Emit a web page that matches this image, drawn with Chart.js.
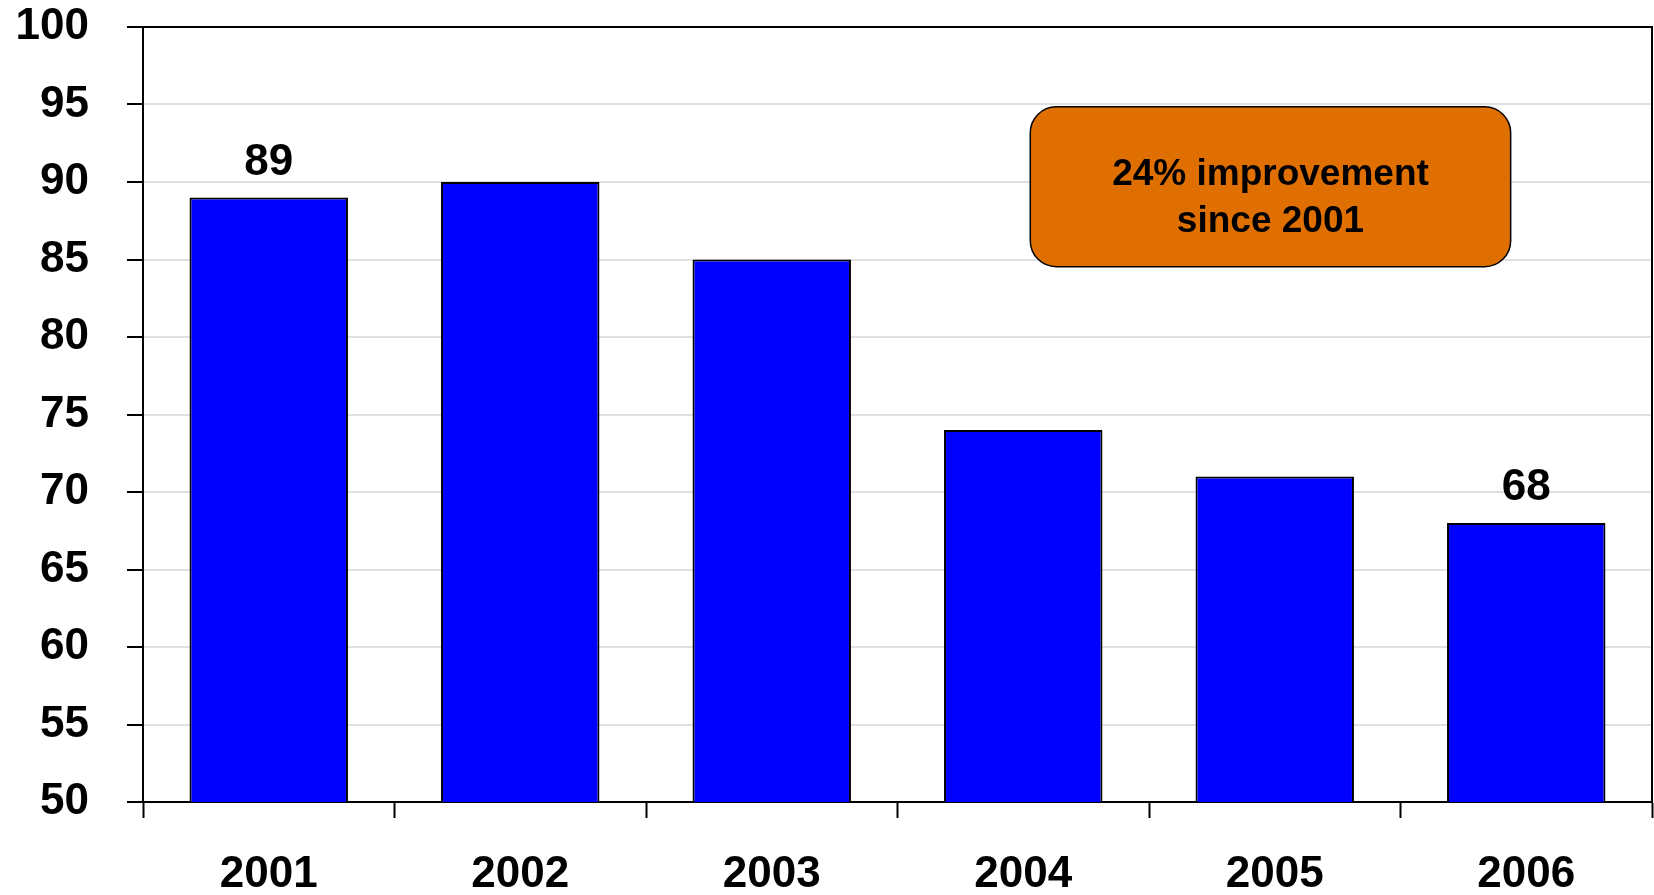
<!DOCTYPE html>
<html lang="en">
<head>
<meta charset="UTF-8">
<title>Yearly results</title>
<script src="https://cdn.jsdelivr.net/npm/chart.js@4/dist/chart.umd.min.js"></script>
<style>
    body {
        margin: 0;
        background: #fff;
    }
    canvas {
        display: block;
    }
</style>
</head>
<body>

<canvas id="yearChart" width="1654" height="895"></canvas>

<script>
// data
var years = ['2001', '2002', '2003', '2004', '2005', '2006'];
var values = [89, 90, 85, 74, 71, 68];
var labelledBars = [0, 5];   // only first and last bar get a value label
var calloutLines = ['24% improvement', 'since 2001'];

var fontFamily = '"Liberation Sans", Arial, Helvetica, sans-serif';

// frame round the plot area (top and right edges, the axes draw left and bottom)
var framePlugin = {
    id: 'frame',
    afterDraw: function (chart) {
        var ctx = chart.ctx;
        var a = chart.chartArea;
        ctx.save();
        ctx.strokeStyle = '#000';
        ctx.lineWidth = 2;
        ctx.beginPath();
        ctx.moveTo(a.left, a.top);
        ctx.lineTo(a.right, a.top);
        ctx.lineTo(a.right, a.bottom);
        ctx.stroke();
        ctx.restore();
    }
};

// value labels above selected bars
var valueLabelPlugin = {
    id: 'valueLabels',
    afterDatasetsDraw: function (chart) {
        var ctx = chart.ctx;
        var meta = chart.getDatasetMeta(0);
        ctx.save();
        ctx.font = 'bold 44px ' + fontFamily;
        ctx.fillStyle = '#000';
        ctx.textAlign = 'center';
        ctx.textBaseline = 'alphabetic';
        labelledBars.forEach(function (i) {
            var bar = meta.data[i];
            ctx.fillText(String(values[i]), bar.x, bar.y - 23);
        });
        ctx.restore();
    }
};

// rounded orange callout, placed in data units
var callout = { x0: 3.028, x1: 4.938, yTop: 94.85, yBottom: 84.54 };

var calloutPlugin = {
    id: 'callout',
    afterDraw: function (chart) {
        var ctx = chart.ctx;
        var xs = chart.scales.x, ys = chart.scales.y;
        var step = xs.getPixelForValue(1) - xs.getPixelForValue(0);
        var left = xs.getPixelForValue(0) + step * callout.x0;
        var right = xs.getPixelForValue(0) + step * callout.x1;
        var top = ys.getPixelForValue(callout.yTop);
        var bottom = ys.getPixelForValue(callout.yBottom);
        ctx.save();
        ctx.beginPath();
        ctx.roundRect(left, top, right - left, bottom - top, 26);
        ctx.fillStyle = '#df6f00';
        ctx.fill();
        ctx.lineWidth = 1.5;
        ctx.strokeStyle = '#000';
        ctx.stroke();
        ctx.fillStyle = '#000';
        ctx.font = 'bold 37px ' + fontFamily;
        ctx.textAlign = 'center';
        ctx.textBaseline = 'alphabetic';
        var cx = (left + right) / 2;
        var cy = (top + bottom) / 2;
        ctx.fillText(calloutLines[0], cx, cy - 1.5);
        ctx.fillText(calloutLines[1], cx, cy + 45);
        ctx.restore();
    }
};

// fixed axis sizes, and no extra padding for overhanging tick labels
function fixAxis(size) {
    return function (scale) {
        if (scale.isHorizontal()) {
            scale.height = size;
        } else {
            scale.width = size;
        }
        scale.paddingTop = 0;
        scale.paddingBottom = 0;
        scale.paddingLeft = 0;
        scale.paddingRight = 0;
    };
}

var ctx = document.getElementById('yearChart').getContext('2d');
var yearChart = new Chart(ctx, {
    type: 'bar',
    data: {
        labels: years,
        datasets: [{
            data: values,
            backgroundColor: '#0000ff',
            borderColor: '#000',
            borderWidth: 2,
            borderSkipped: false,
            categoryPercentage: 0.63,
            barPercentage: 1
        }]
    },
    options: {
        responsive: false,
        animation: false,
        layout: {
            padding: { top: 27, right: 2, left: 0, bottom: 0 }
        },
        plugins: {
            legend: { display: false },
            tooltip: { enabled: false }
        },
        scales: {
            x: {
                offset: true,
                grid: {
                    offset: true,
                    drawOnChartArea: false,
                    tickLength: 16,
                    tickColor: '#000',
                    tickWidth: 2
                },
                border: { color: '#000', width: 2 },
                ticks: {
                    color: '#000',
                    padding: 30,
                    maxRotation: 0,
                    font: { family: fontFamily, size: 44, weight: 'bold' }
                },
                afterFit: fixAxis(93)
            },
            y: {
                min: 50,
                max: 100,
                ticks: {
                    stepSize: 5,
                    color: '#000',
                    padding: 38,
                    font: { family: fontFamily, size: 44, weight: 'bold' }
                },
                grid: {
                    color: '#e0e0e0',
                    lineWidth: 2,
                    tickLength: 16,
                    tickColor: '#000',
                    tickWidth: 2
                },
                border: { color: '#000', width: 2 },
                afterFit: fixAxis(143)
            }
        }
    },
    plugins: [framePlugin, valueLabelPlugin, calloutPlugin]
});
</script>

</body>
</html>
